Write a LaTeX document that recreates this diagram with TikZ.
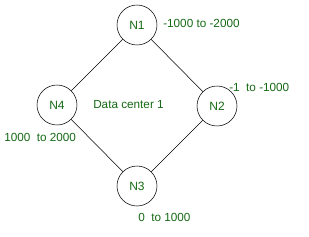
\documentclass[tikz,border=0pt]{standalone}
\usepackage{fontspec}
\setmainfont{Liberation Sans}
\definecolor{labelgreen}{RGB}{20,105,20}
\usetikzlibrary{positioning}

\begin{document}
\begin{tikzpicture}[x=0.75pt, y=-0.75pt,
    server/.style={circle, draw, line width=0.4pt, minimum size=30pt, inner sep=0pt, font=\fontsize{9}{10}\selectfont, text=labelgreen},
    keyrange/.style={anchor=west, inner sep=0pt, font=\fontsize{8.8}{10}\selectfont, text=labelgreen},
    link/.style={line width=0.4pt}]
  \useasboundingbox (0,0) rectangle (309,236);

  % Ring of servers
  \node[server] (n1) at (137,25) {N1};
  \node[server] (n2) at (217,106) {N2};
  \node[server] (n3) at (137,186) {N3};
  \node[server] (n4) at (57,105) {N4};

  \draw[link] (n1) -- (n2);
  \draw[link] (n2) -- (n3);
  \draw[link] (n3) -- (n4);
  \draw[link] (n4) -- (n1);

  % Ranges owned by each server
  \node[keyrange] (r1) at (163,23) {-1000 to -2000};
  \node[keyrange] (r2) at (229,87) {-1~ to -1000};
  \node[keyrange] (r3) at (138,217) {0~ to 1000};
  \node[keyrange] (r4) at (4,137) {1000~ to 2000};

  \node[keyrange] (dc) at (93,105) {Data center 1};
\end{tikzpicture}
\end{document}
